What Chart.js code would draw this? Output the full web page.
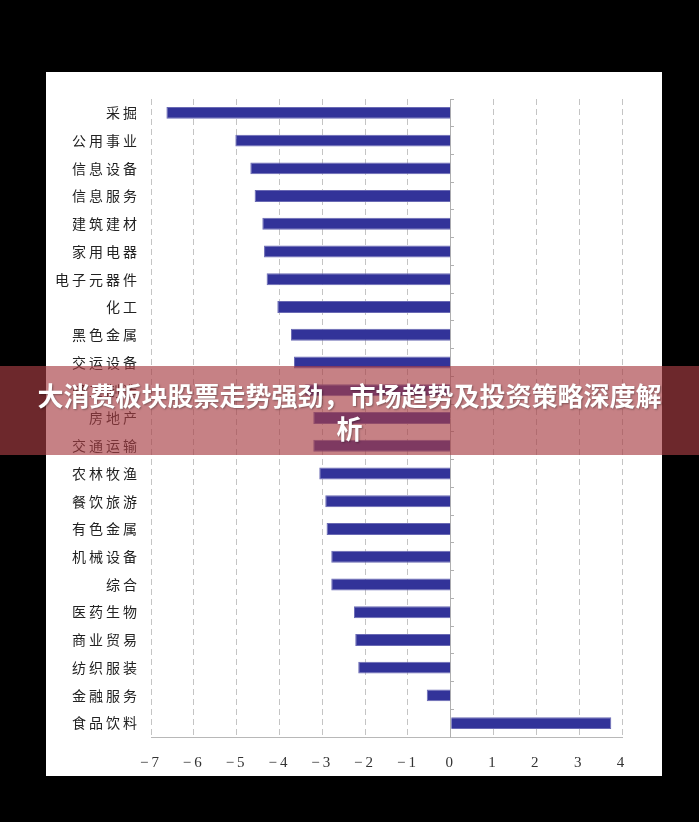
<!DOCTYPE html>
<html>
<head>
<meta charset="utf-8">
<script src="https://cdn.jsdelivr.net/npm/chart.js@4.4.1/dist/chart.umd.min.js"></script>
<style>
  html, body { margin: 0; padding: 0; background: #000; }
  body { width: 699px; height: 822px; position: relative; overflow: hidden; }
  #box { position: absolute; left: 46px; top: 72px; width: 616px; height: 704px; background: #fff; }
  #banner { position: absolute; left: 0; top: 366px; width: 699px; height: 89px;
    background: rgba(168, 62, 68, 0.65); display: flex; align-items: center; justify-content: center; }
  #banner div { width: 630px; text-align: center; color: #fff; font-family: "Noto Sans CJK SC", sans-serif;
    font-weight: 700; font-size: 26px; line-height: 33px; text-shadow: 1px 1px 2px rgba(0,0,0,0.35); }
</style>
</head>
<body>
<div id="box"><canvas id="c" width="616" height="704"></canvas></div>
<div id="banner"><div>大消费板块股票走势强劲，市场趋势及投资策略深度解析</div></div>
<script>
const categories = ['采掘','公用事业','信息设备','信息服务','建筑建材','家用电器','电子元器件','化工','黑色金属','交运设备','轻工制造','房地产','交通运输','农林牧渔','餐饮旅游','有色金属','机械设备','综合','医药生物','商业贸易','纺织服装','金融服务','食品饮料'];
const values = [-6.64,-5.03,-4.68,-4.58,-4.40,-4.36,-4.30,-4.05,-3.73,-3.66,-3.40,-3.21,-3.21,-3.07,-2.93,-2.90,-2.79,-2.79,-2.26,-2.23,-2.16,-0.56,3.75];
const xTickLabels = ['−7','−6','−5','−4','−3','−2','−1','0','1','2','3','4'];

const spacing = {
  id: 'spacing',
  beforeUpdate(chart) { chart.ctx.letterSpacing = '3px'; },
  beforeDraw(chart) { chart.ctx.letterSpacing = '3px'; }
};

new Chart(document.getElementById('c'), {
  type: 'bar',
  data: {
    labels: categories,
    datasets: [{
      data: values,
      yAxisID: 'y',
      backgroundColor: '#323399',
      borderColor: '#6a6ab4',
      borderWidth: 1,
      categoryPercentage: 1,
      barPercentage: 0.43
    }]
  },
  options: {
    indexAxis: 'y',
    responsive: false,
    animation: false,
    layout: { padding: { top: 27, right: 40, left: 0, bottom: 0 } },
    plugins: { legend: { display: false }, tooltip: { enabled: false } },
    scales: {
      x: {
        type: 'linear', position: 'bottom', min: -7, max: 4,
        ticks: { stepSize: 1, padding: 17, color: '#333',
          font: { family: 'Liberation Serif', size: 15 },
          callback: (v, i) => xTickLabels[i] },
        grid: { color: '#c4c4c4', lineWidth: 1, drawTicks: false },
        border: { display: true, color: '#b8b8b8', dash: [6, 4] },
        afterFit(s) { s.height = 39; }
      },
      y: {
        type: 'category', position: { x: 0 }, offset: true,
        ticks: { display: false },
        grid: { offset: true, drawOnChartArea: false, drawTicks: true, tickLength: -4, color: '#b0b0b0' },
        border: { display: true, color: '#b0b0b0' }
      },
      yl: {
        type: 'category', position: 'left', offset: true,
        ticks: { padding: 11, color: '#222', font: { family: 'Noto Sans CJK SC', size: 14 } },
        grid: { display: false, drawTicks: false },
        border: { display: false },
        afterFit(s) { s.width = 105; }
      }
    }
  },
  plugins: [spacing]
});
</script>
</body>
</html>
